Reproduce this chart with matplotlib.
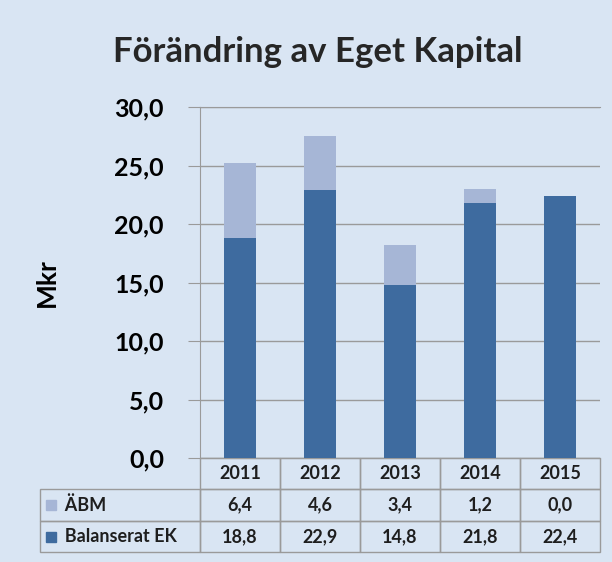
import matplotlib

matplotlib.use("Agg")
import matplotlib.pyplot as plt
from matplotlib.patches import Rectangle
from matplotlib.table import Table
from matplotlib.ticker import FuncFormatter
import numpy as np

years = ["2011", "2012", "2013", "2014", "2015"]
abm = [6.4, 4.6, 3.4, 1.2, 0.0]
balanserat = [18.8, 22.9, 14.8, 21.8, 22.4]
series_names = ["ÄBM", "Balanserat EK"]

BG = "#d9e5f3"
DARK = "#3e6b9f"
LIGHT = "#a6b6d6"
GRID = "#9a9a9a"


def sv(v):
    return f"{v:.1f}".replace(".", ",")


plt.rcParams["font.family"] = ["Lato", "DejaVu Sans"]
plt.rcParams["font.weight"] = "bold"

fig = plt.figure(figsize=(6.12, 5.62), dpi=100, facecolor=BG)
ax = fig.add_axes([200 / 612, 1 - 458 / 562, 400 / 612, 351 / 562])
ax.set_facecolor(BG)

x = np.arange(len(years))
ax.bar(x, balanserat, width=0.4, color=DARK, zorder=3)
ax.bar(x, abm, width=0.4, bottom=balanserat, color=LIGHT, zorder=3)

ax.set_xlim(-0.5, len(years) - 0.5)
ax.set_ylim(0, 30)
ax.set_yticks(np.arange(0, 31, 5))
ax.yaxis.set_major_formatter(FuncFormatter(lambda v, p: sv(v)))
ax.tick_params(axis="y", labelsize=18, length=9, color=GRID, pad=17)
ax.set_xticks([])
ax.grid(axis="y", color=GRID, linewidth=1, zorder=0)
ax.spines["right"].set_visible(False)
for side in ["left", "top", "bottom"]:
    ax.spines[side].set_color(GRID)
ax.set_ylabel("Mkr", fontsize=19, fontweight="bold", labelpad=40)

fig.text(0.52, 1 - 52 / 562, "Förändring av Eget Kapital", ha="center", va="center",
         fontsize=25, fontweight="bold", color="#262626")

# data table under the bars: label column twice as wide as a year column
table = Table(ax, bbox=[-0.4, -94 / 351, 1.4, 94 / 351])
rows = [years, [sv(v) for v in abm], [sv(v) for v in balanserat]]
labels = ["", "  " + series_names[0], "  " + series_names[1]]
for r in range(3):
    cell = table.add_cell(r, 0, width=2, height=1, text=labels[r], loc="left")
    if r == 0:
        cell.visible_edges = ""
    for c, txt in enumerate(rows[r]):
        table.add_cell(r, c + 1, width=1, height=1, text=txt, loc="center")
table.auto_set_font_size(False)
for (r, c), cell in table.get_celld().items():
    cell.set_edgecolor(GRID)
    cell.set_facecolor("none")
    cell.set_linewidth(1)
    cell.get_text().set_fontsize(13)
    cell.get_text().set_fontweight("bold")
    cell.get_text().set_color("#1e1e1e")
ax.add_table(table)

for i, col in enumerate([LIGHT, DARK]):
    yc = 1 - (505 + i * 32) / 562
    fig.patches.append(Rectangle((46 / 612, yc - 5 / 562), 10 / 612, 10 / 562,
                                 transform=fig.transFigure, color=col))

fig.savefig("out.png", dpi=100, facecolor=BG)
